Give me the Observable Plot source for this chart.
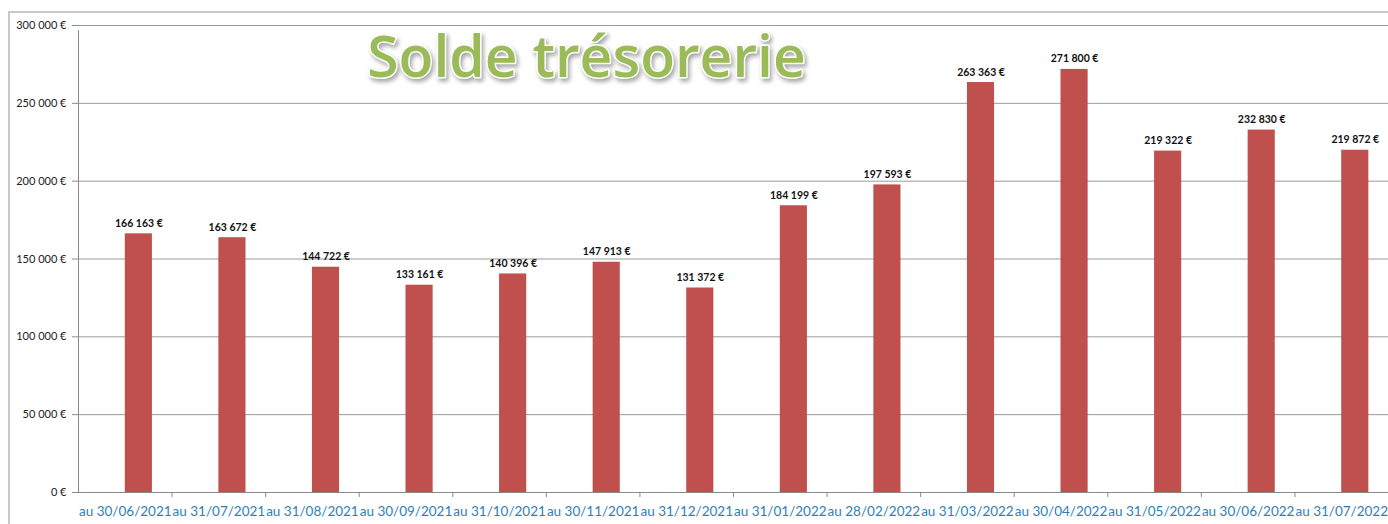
<!DOCTYPE html>
<html>
<head>
<meta charset="utf-8">
<script src="https://cdn.jsdelivr.net/npm/d3@7"></script>
<script src="https://cdn.jsdelivr.net/npm/@observablehq/plot@0.6"></script>
<style>
  body { margin: 0; background: #fff; }
  #wrap { position: relative; width: 1388px; height: 524px; overflow: hidden; }
  #border { position: absolute; left: 8px; top: 11px; width: 1400px; height: 600px;
            border-left: 2px solid #c8c8c8; border-top: 2px solid #c8c8c8; }
  #chart { position: absolute; left: 0; top: 0; }
  .title { filter: drop-shadow(2px 3px 2px rgba(0,0,0,0.35)); }
</style>
</head>
<body>
<div id="wrap"><div id="border"></div><div id="chart"></div></div>
<script>
const categories = ["au 30/06/2021","au 31/07/2021","au 31/08/2021","au 30/09/2021","au 31/10/2021","au 30/11/2021","au 31/12/2021","au 31/01/2022","au 28/02/2022","au 31/03/2022","au 30/04/2022","au 31/05/2022","au 30/06/2022","au 31/07/2022"];
const values = [166163,163672,144722,133161,140396,147913,131372,184199,197593,263363,271800,219322,232830,219872];
const yTicks = [0,50000,100000,150000,200000,250000,300000];
const titleText = "Solde trésorerie";

const data = categories.map((c, i) => ({cat: c, val: values[i]}));
const loc = d3.formatLocale({decimal: ",", thousands: " ", grouping: [3], currency: ["", " €"]});
const fmt = v => loc.format(",")(v) + " €";

const W = 1388, H = 524, ML = 78, MR = 0, MT = 25, MB = 32;
const bw = (W - ML - MR) / categories.length;
const barL = bw * 0.50, barR = bw * 0.21;           // bar sits right of band centre
const barOffset = ((bw - barR) + barL) / 2 - bw / 2; // centre offset of bar within band

const chart = Plot.plot({
  width: W, height: H,
  marginLeft: ML, marginRight: MR, marginTop: MT, marginBottom: MB,
  style: {fontFamily: "Lato, 'Open Sans', sans-serif", background: "transparent"},
  x: {domain: categories, padding: 0, round: false, label: null},
  y: {type: "linear", domain: [0, 300000], label: null},
  marks: [
    Plot.gridY(yTicks, {stroke: "#9a9a9a", strokeOpacity: 1, strokeWidth: 1}),
    Plot.barY(data, {x: "cat", y: "val", fill: "#c0504d", insetLeft: barL, insetRight: barR}),
    Plot.text(data, {x: "cat", y: "val", text: d => fmt(d.val), dx: barOffset, dy: -7,
      lineAnchor: "bottom", fontWeight: "bold", fontSize: 10.5, fill: "#111"}),
    // axis lines
    Plot.ruleX([categories[0]], {x: d => d, dx: -bw / 2, y1: 0, y2: 300000, stroke: "#8a8a8a", insetBottom: -5}),
    Plot.ruleY([0], {stroke: "#8a8a8a"}),
    // category boundary ticks
    Plot.ruleX(categories.slice(1), {x: d => d, dx: -bw / 2, y1: 0, y2: 0, stroke: "#8a8a8a", insetBottom: -5}),
    Plot.axisY(yTicks, {tickFormat: fmt, tickSize: 6, stroke: "#8a8a8a", fill: "#222", fontSize: 11, tickPadding: 6}),
    Plot.axisX({tickSize: 0, tickPadding: 14, fill: "#2e7fb8", fontSize: 13.5}),
    Plot.text([titleText], {frameAnchor: "top", text: d => d, dx: 586 - (ML + (W - ML - MR) / 2), dy: 33,
      lineAnchor: "middle", fontSize: 57, fontWeight: 600, fontFamily: "'Open Sans'", fill: "#9bbb59",
      stroke: "white", strokeWidth: 3, paintOrder: "stroke", className: "title"})
  ]
});
document.getElementById("chart").appendChild(chart);
</script>
</body>
</html>
